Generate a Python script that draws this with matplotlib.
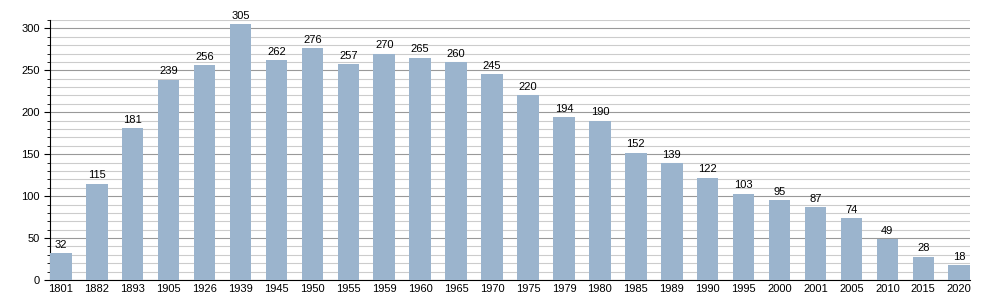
import matplotlib.pyplot as plt
import numpy as np

# Population by census year
years = ['1801', '1882', '1893', '1905', '1926', '1939', '1945', '1950', '1955',
         '1959', '1960', '1965', '1970', '1975', '1979', '1980', '1985', '1989',
         '1990', '1995', '2000', '2001', '2005', '2010', '2015', '2020']
population = [32, 115, 181, 239, 256, 305, 262, 276, 257, 270, 265, 260, 245,
              220, 194, 190, 152, 139, 122, 103, 95, 87, 74, 49, 28, 18]

plt.rcParams['font.family'] = ['Liberation Sans', 'DejaVu Sans']

fig = plt.figure(figsize=(10, 3), dpi=100)
ax = fig.add_axes([0.05, 0.0667, 0.92, 0.8667])

x = np.arange(len(years))
ax.bar(x, population, width=0.6, color='#9bb4cd', zorder=3)

# value labels above bars
for xi, v in zip(x, population):
    ax.text(xi, v + 4, str(v), ha='center', va='bottom', fontsize=8, zorder=4)

ax.set_xlim(-0.3, len(years) - 0.7)
ax.set_ylim(0, 310)
ax.set_xticks(x)
ax.set_xticklabels(years, fontsize=8)
ax.set_yticks(np.arange(0, 301, 50))
ax.set_yticks(np.arange(0, 311, 10), minor=True)
ax.tick_params(axis='y', labelsize=8, length=4)
ax.tick_params(axis='y', which='minor', length=2)
ax.tick_params(axis='x', length=0, pad=3)

ax.grid(axis='y', which='major', color='#999999', linewidth=0.8, zorder=0)
ax.grid(axis='y', which='minor', color='#cccccc', linewidth=0.8, zorder=0)
for s in ['top', 'right']:
    ax.spines[s].set_visible(False)

fig.savefig('out.png', dpi=100)
